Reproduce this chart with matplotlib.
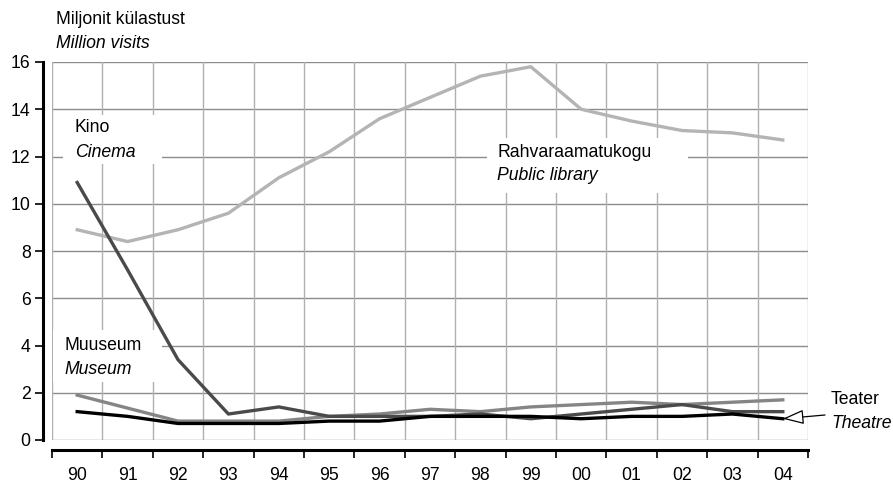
import matplotlib
matplotlib.use("Agg")
import matplotlib.pyplot as plt
import numpy as np

years = ["90", "91", "92", "93", "94", "95", "96", "97", "98", "99", "00", "01", "02", "03", "04"]
library = [8.9, 8.4, 8.9, 9.6, 11.1, 12.2, 13.6, 14.5, 15.4, 15.8, 14.0, 13.5, 13.1, 13.0, 12.7]
cinema = [10.9, 7.2, 3.4, 1.1, 1.4, 1.0, 1.0, 1.0, 1.1, 0.9, 1.1, 1.3, 1.5, 1.2, 1.2]
museum = [1.9, 1.35, 0.8, 0.8, 0.8, 1.0, 1.1, 1.3, 1.2, 1.4, 1.5, 1.6, 1.5, 1.6, 1.7]
theatre = [1.2, 1.0, 0.7, 0.7, 0.7, 0.8, 0.8, 1.0, 1.0, 1.0, 0.9, 1.0, 1.0, 1.1, 0.9]

plt.rcParams['font.family'] = ['Liberation Sans', 'DejaVu Sans']
FS = 12.7

W, H = 893, 484
fig = plt.figure(figsize=(W / 100, H / 100), dpi=100)
L, R, T, B = 52, 808, 62, 440
ax = fig.add_axes([L / W, 1 - B / H, (R - L) / W, (B - T) / H])

n = len(years)
x = np.arange(n)
ax.set_xlim(-0.5, n - 0.5)
ax.set_ylim(0, 16)

# grid
for v in range(0, 17, 2):
    ax.axhline(v, color="#8c8c8c", lw=1.0, zorder=1)
for k in range(n + 1):
    ax.axvline(k - 0.5, color="#b0b0b0", lw=1.0, zorder=1)

ax.plot(x, library, color="#b4b4b4", lw=2.4, zorder=3)
ax.plot(x, museum, color="#858585", lw=2.4, zorder=3)
ax.plot(x, cinema, color="#4a4a4a", lw=2.4, zorder=4)
ax.plot(x, theatre, color="#000000", lw=2.4, zorder=5)

for s in ax.spines.values():
    s.set_visible(False)
ax.set_xticks([])
ax.set_yticks([])

# y axis (offset to the left)
yax = fig.add_axes([43 / W, 1 - B / H, 0.001, (B - T) / H])
yax.set_ylim(0, 16)
yax.set_yticks(range(0, 17, 2))
yax.set_yticklabels([str(v) for v in range(0, 17, 2)], fontsize=FS)
yax.set_xticks([])
for k in ["top", "right", "bottom"]:
    yax.spines[k].set_visible(False)
yax.spines["left"].set_linewidth(2.2)
yax.tick_params(axis="y", length=6, width=1.2, pad=3)
yax.patch.set_visible(False)

# x axis (offset below)
xax = fig.add_axes([L / W, 1 - 450 / H, (R - L) / W, 0.001])
xax.set_xlim(-0.5, n - 0.5)
xax.set_xticks(np.arange(n + 1) - 0.5)
xax.set_xticklabels([""] * (n + 1))
xax.set_xticks(x, minor=True)
xax.set_xticklabels(years, minor=True, fontsize=FS)
xax.tick_params(axis="x", which="major", length=6, width=1.2, direction="out")
xax.tick_params(axis="x", which="minor", length=0, pad=12)
xax.set_yticks([])
for k in ["top", "right", "left"]:
    xax.spines[k].set_visible(False)
xax.spines["bottom"].set_linewidth(2.2)
xax.patch.set_visible(False)

# titles
fig.text(56 / W, 1 - 19 / H, "Miljonit külastust", fontsize=FS, va="center", ha="left")
fig.text(56 / W, 1 - 43 / H, "Million visits", fontsize=FS, va="center", ha="left", style="italic")


def label(tx, y1, y2, t1, t2, bx0, bx1, by0, by1):
    ax.add_patch(plt.Rectangle((bx0 / W, 1 - by1 / H), (bx1 - bx0) / W, (by1 - by0) / H,
                               transform=fig.transFigure, facecolor="white",
                               edgecolor="none", zorder=2, clip_on=False))
    ax.text(tx / W, 1 - y1 / H, t1, fontsize=FS, va="center", ha="left", zorder=7,
            transform=fig.transFigure)
    ax.text(tx / W, 1 - y2 / H, t2, fontsize=FS, va="center", ha="left", style="italic",
            zorder=7, transform=fig.transFigure)


label(75, 128, 152, "Kino", "Cinema", 63, 162, 115, 164)
label(64, 346, 370, "Muuseum", "Museum", 53, 162, 330, 382)
label(497, 152, 176, "Rahvaraamatukogu", "Public library", 487, 688, 138, 193)

fig.text(831 / W, 1 - 399 / H, "Teater", fontsize=FS, va="center", ha="left")
fig.text(831 / W, 1 - 424 / H, "Theatre", fontsize=FS, va="center", ha="left", style="italic")

ax.annotate("", xy=(x[-1], theatre[-1]), xycoords="data",
            xytext=(825 / W, 1 - 415 / H), textcoords="figure fraction",
            arrowprops=dict(arrowstyle="-|>,head_length=1.3,head_width=0.45",
                            edgecolor="black", facecolor="white", lw=0.9,
                            shrinkA=0, shrinkB=0),
            annotation_clip=False, zorder=8)

fig.savefig("out.png", dpi=100)
